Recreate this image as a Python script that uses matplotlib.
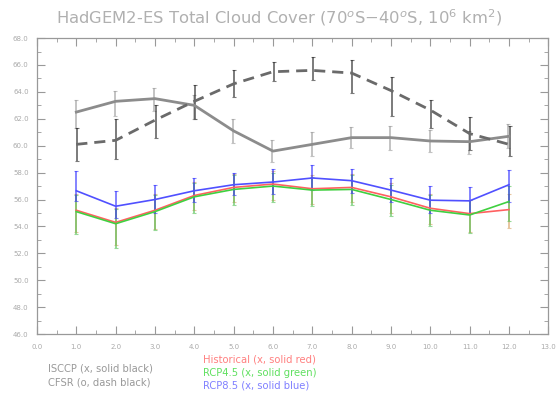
"""HadGEM2-ES total cloud cover, 70S-40S, monthly climatology vs ISCCP / CFSR."""
import matplotlib; matplotlib.use("Agg")
import matplotlib.pyplot as plt
import numpy as np

months = np.arange(1, 13)

# line values (10^6 km^2)
isccp = [62.5, 63.3, 63.5, 63.0, 61.1, 59.6, 60.1, 60.6, 60.6, 60.35, 60.3, 60.7]
cfsr  = [60.1, 60.4, 61.9, 63.3, 64.6, 65.5, 65.6, 65.4, 64.1, 62.65, 60.9, 60.1]
hist  = [55.2, 54.3, 55.2, 56.3, 56.9, 57.15, 56.8, 56.9, 56.2, 55.35, 54.95, 55.25]
rcp45 = [55.1, 54.2, 55.1, 56.2, 56.75, 57.0, 56.7, 56.75, 56.0, 55.2, 54.85, 55.85]
rcp85 = [56.65, 55.5, 56.0, 56.65, 57.1, 57.3, 57.6, 57.4, 56.7, 55.95, 55.9, 57.1]

# spread of the individual years (min / max), estimated
cfsr_lo = [58.9, 59.0, 60.6, 62.0, 63.6, 64.8, 64.9, 63.9, 62.2, 61.3, 59.7, 59.2]
cfsr_hi = [61.3, 62.0, 63.0, 64.5, 65.6, 66.2, 66.6, 66.4, 65.1, 63.4, 62.1, 61.5]
isccp_lo = [61.3, 62.2, 62.6, 62.0, 60.2, 58.8, 59.2, 59.8, 59.7, 59.5, 59.4, 59.8]
isccp_hi = [63.4, 64.1, 64.3, 63.8, 62.0, 60.4, 61.0, 61.4, 61.5, 61.2, 61.1, 61.6]
hist_lo = [53.6, 52.6, 53.8, 55.2, 55.8, 56.0, 55.7, 55.8, 55.0, 54.2, 53.6, 53.9]
hist_hi = [56.4, 55.4, 56.4, 57.3, 57.9, 58.1, 57.8, 57.9, 57.2, 56.4, 56.0, 56.4]
r45_lo  = [53.4, 52.4, 53.7, 55.0, 55.6, 55.8, 55.5, 55.6, 54.8, 54.0, 53.5, 54.4]
r45_hi  = [56.3, 55.3, 56.3, 57.2, 57.8, 58.0, 57.7, 57.8, 57.1, 56.3, 56.0, 57.0]
r85_lo  = [55.9, 54.6, 55.0, 55.8, 56.3, 56.4, 56.7, 56.5, 55.8, 55.0, 54.9, 55.8]
r85_hi  = [58.1, 56.6, 57.1, 57.6, 58.0, 58.3, 58.6, 58.3, 57.6, 57.0, 56.9, 58.2]

fig = plt.figure(figsize=(5.57, 4.01), dpi=100)
ax = fig.add_axes([0.0664, 0.167, 0.918, 0.738])

def spread(lo, hi, col, dx=0.0):
    x = months + dx
    ax.vlines(x, lo, hi, color=col, lw=1.4, alpha=0.6, zorder=2)
    for lv in (lo, hi):
        ax.plot(x, lv, ls="none", marker="_", ms=3, mew=0.8, color=col, alpha=0.6, zorder=2)

spread(isccp_lo, isccp_hi, "#9a9a9a", -0.02)
spread(cfsr_lo, cfsr_hi, "#222222", 0.02)
spread(hist_lo, hist_hi, "#d8a060")
spread(r45_lo, r45_hi, "#50c050")
spread(r85_lo, r85_hi, "#3030ff")

ax.plot(months, isccp, color="#8c8c8c", lw=2.0, zorder=3)
ax.plot(months, cfsr, color="#6a6a6a", lw=2.0, ls=(0, (4, 2.5)), zorder=3)
ax.plot(months, hist, color="#ff6060", lw=1.2, zorder=4)
ax.plot(months, rcp45, color="#40d040", lw=1.2, zorder=4)
ax.plot(months, rcp85, color="#5050ff", lw=1.2, zorder=5)

ax.set_xlim(0, 13)
ax.set_ylim(46, 68)
ax.set_xticks(np.arange(0, 14, 1))
ax.set_xticks(np.arange(0, 13.01, 0.5), minor=True)
ax.set_yticks(np.arange(46, 68.1, 2))
ax.set_yticks(np.arange(46, 68.1, 1), minor=True)
ax.set_xticklabels([f"{v:.1f}" for v in np.arange(0, 14, 1)])
ax.set_yticklabels([f"{v:.1f}" for v in np.arange(46, 68.1, 2)])
ax.tick_params(which="both", direction="in", top=True, right=True, colors="#999999",
               labelsize=5.0, labelcolor="#aaaaaa")
ax.tick_params(axis="x", pad=7)
ax.tick_params(axis="y", pad=6)
ax.tick_params(which="major", length=6, width=0.8)
ax.tick_params(which="minor", length=3, width=0.6)
for s in ax.spines.values():
    s.set_color("#999999"); s.set_linewidth(0.9)

fig.text(0.50, 0.955, "HadGEM2-ES Total Cloud Cover (70$^o$S$-$40$^o$S, 10$^6$ km$^2$)",
         ha="center", va="center", fontsize=11.8, color="#b0b0b0")

fig.text(0.086, 0.082, "ISCCP (x, solid black)", fontsize=7.2, color="#999999", va="center")
fig.text(0.086, 0.046, "CFSR (o, dash black)", fontsize=7.2, color="#999999", va="center")
fig.text(0.365, 0.104, "Historical (x, solid red)", fontsize=7.2, color="#ff8080", va="center")
fig.text(0.365, 0.071, "RCP4.5 (x, solid green)", fontsize=7.2, color="#60e060", va="center")
fig.text(0.365, 0.038, "RCP8.5 (x, solid blue)", fontsize=7.2, color="#8080ff", va="center")

fig.savefig("out.png", dpi=100)
